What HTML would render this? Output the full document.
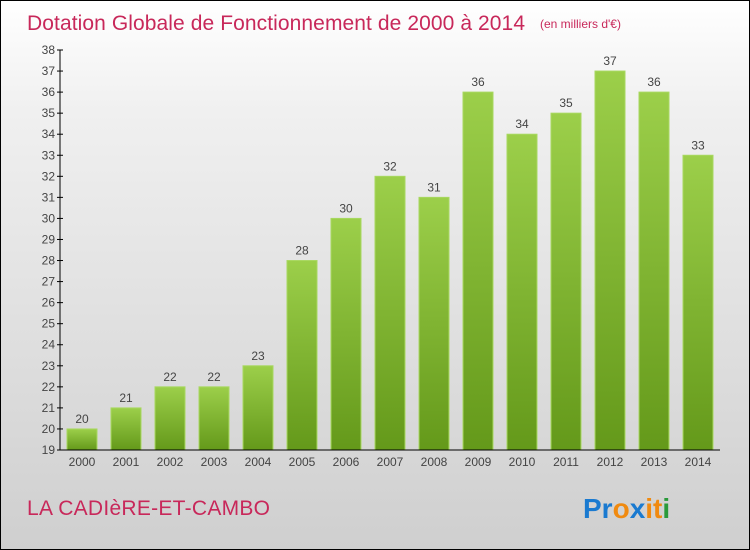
<!DOCTYPE html>
<html><head><meta charset="utf-8"><style>
body{margin:0}
#c{width:750px;height:550px;position:relative;box-sizing:border-box;border:1px solid #000;background:linear-gradient(#ffffff,#f0f0f0 20%,#cfcfcf);overflow:hidden;font-family:"Liberation Sans",sans-serif}
</style></head><body>
<div id="c">
<svg id="s" width="750" height="550" style="position:absolute;left:-1px;top:-1px">
<defs><linearGradient id="g" x1="0" y1="0" x2="0" y2="1"><stop offset="0" stop-color="#9ccf4a"/><stop offset="1" stop-color="#64991a"/></linearGradient></defs>
<text x="27" y="30" font-size="21" fill="#c8285a" textLength="498">Dotation Globale de Fonctionnement de 2000 à 2014</text>
<text x="540" y="28" font-size="12" fill="#c8285a">(en milliers d'€)</text>
<g id="bars"></g>
<g id="axis"></g>
<text x="27" y="515" font-size="21" fill="#c8285a" textLength="243">LA CADIèRE-ET-CAMBO</text>
<text x="583" y="518" font-size="28" font-weight="bold"><tspan fill="#1a7ad0">Pr</tspan><tspan fill="#f08a10">o</tspan><tspan fill="#1a7ad0">x</tspan><tspan fill="#f08a10">i</tspan><tspan fill="#f08a10">t</tspan><tspan fill="#2a9a3a">i</tspan></text>
</svg></div>
<script>
const years=["2000","2001","2002","2003","2004","2005","2006","2007","2008","2009","2010","2011","2012","2013","2014"];
const values=[20,21,22,22,23,28,30,32,31,36,34,35,37,36,33];
const yTicks=[19,20,21,22,23,24,25,26,27,28,29,30,31,32,33,34,35,36,37,38];
const NS="http://www.w3.org/2000/svg";
const y=v=>450-(v-19)*(400/19);
const x=i=>82+i*44;
function mk(t,a,p){const e=document.createElementNS(NS,t);for(const k in a)e.setAttribute(k,a[k]);p.appendChild(e);return e;}
const B=document.getElementById('bars'),A=document.getElementById('axis');
values.forEach((v,i)=>{
 const r=mk('rect',{x:x(i)-15,y:y(v),width:30,height:450-y(v),fill:'url(#g)',stroke:'#a8d860','stroke-width':1},B);
 
 
 const t=mk('text',{x:x(i),y:y(v)-6,'text-anchor':'middle','font-size':12,fill:'#444'},B);t.textContent=v;
 
 
 const xl=mk('text',{x:x(i),y:466,'text-anchor':'middle','font-size':12,fill:'#444'},A);xl.textContent=years[i];
 
 
});
mk('line',{x1:60,y1:y(38),x2:60,y2:450,stroke:'#000'},A);
mk('line',{x1:60,y1:450,x2:720,y2:450,stroke:'#000'},A);
yTicks.forEach(v=>{
 mk('line',{x1:57,y1:y(v),x2:63,y2:y(v),stroke:'#000'},A);
 const t=mk('text',{x:55,y:y(v)+4,'text-anchor':'end','font-size':12,fill:'#444'},A);t.textContent=v;
 
 
});
</script>
</body></html>
